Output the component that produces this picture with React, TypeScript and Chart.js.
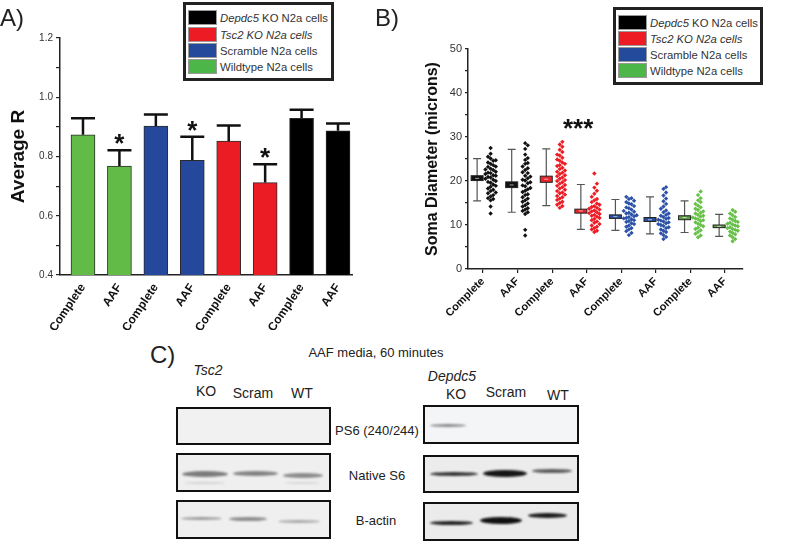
import React, { useEffect, useRef } from "react";
import { Chart, registerables } from "chart.js";

Chart.register(...registerables);

const FONT = "'Liberation Sans', Arial, Helvetica, sans-serif";

// ---------- Panel A data ----------
const barCategories = ["Complete", "AAF", "Complete", "AAF", "Complete", "AAF", "Complete", "AAF"];
const barValues = [0.873, 0.768, 0.903, 0.787, 0.852, 0.712, 0.929, 0.887];
const barErrors = [0.056, 0.053, 0.039, 0.080, 0.053, 0.062, 0.029, 0.024];
const barColors = ["#62bb46", "#62bb46", "#25489c", "#25489c", "#ec1c24", "#ec1c24", "#000000", "#000000"];
const barSignificant = [false, true, false, true, false, true, false, false];
const barYTicks = [0.4, 0.5, 0.6, 0.7, 0.8, 0.9, 1.0, 1.1, 1.2];

// ---------- Panel B data ----------
const somaCategories = ["Complete", "AAF", "Complete", "AAF", "Complete", "AAF", "Complete", "AAF"];
const somaYTicks = [0, 5, 10, 15, 20, 25, 30, 35, 40, 45, 50];
const somaColors = ["#111111", "#111111", "#ed1c24", "#ed1c24", "#2c52a8", "#2c52a8", "#68c04a", "#68c04a"];
const somaBoxColors = ["#111111", "#111111", "#e8242a", "#e8242a", "#2a4e9e", "#2a4e9e", "#5e9c46", "#5e9c46"];

const blackComplete = [27.5, 26.2, 25.5, 25.1, 24.7, 24.6, 24.2, 23.9, 23.6, 23.3, 23.2, 22.8, 22.6, 22.5, 22.1, 21.9, 21.8, 21.6, 21.3, 21.2, 20.9, 20.8, 20.5, 20.3, 20.0, 19.8, 19.6, 19.2, 18.9, 18.7, 18.3, 18.0, 17.7, 17.4, 17.2, 16.8, 16.5, 16.1, 15.9, 15.6, 14.2, 12.6];
const blackAAF = [28.6, 28.1, 27.3, 26.0, 25.2, 24.8, 24.1, 23.9, 23.3, 22.9, 22.5, 22.0, 21.8, 21.2, 21.0, 20.6, 20.3, 20.1, 19.7, 19.5, 19.0, 18.8, 18.4, 18.1, 17.8, 17.5, 17.0, 16.8, 16.3, 16.0, 15.6, 15.3, 14.9, 14.5, 14.2, 13.8, 13.5, 13.2, 12.9, 12.5, 8.9, 7.6];
const redComplete = [28.9, 28.3, 27.8, 27.1, 26.6, 26.0, 25.8, 25.3, 24.9, 24.6, 24.2, 23.9, 23.6, 23.4, 23.0, 22.7, 22.4, 22.1, 21.9, 21.6, 21.3, 21.1, 20.8, 20.5, 20.2, 20.0, 19.7, 19.4, 19.1, 18.9, 18.6, 18.3, 18.0, 17.7, 17.4, 17.2, 16.9, 16.6, 16.3, 16.0, 15.7, 15.3, 15.0, 14.6, 14.3, 13.9];
const redAAF = [21.7, 19.4, 18.5, 17.8, 17.1, 16.4, 15.9, 15.6, 15.2, 14.9, 14.6, 14.3, 14.1, 13.9, 13.7, 13.5, 13.3, 13.1, 12.9, 12.7, 12.5, 12.3, 12.1, 11.9, 11.6, 11.4, 11.1, 10.8, 10.5, 10.2, 9.9, 9.6, 9.3, 9.0, 8.7, 8.4];
const blueComplete = [16.4, 16.1, 15.9, 15.5, 15.2, 14.9, 14.7, 14.3, 14.0, 13.8, 13.5, 13.2, 13.0, 12.8, 12.6, 12.4, 12.2, 12.0, 11.8, 11.6, 11.5, 11.3, 11.1, 10.9, 10.7, 10.4, 10.2, 9.9, 9.6, 9.3, 9.0, 8.6, 8.2, 7.7];
const blueAAF = [18.6, 18.2, 17.4, 16.7, 16.0, 15.4, 14.8, 14.2, 13.7, 13.3, 12.9, 12.6, 12.3, 12.1, 11.8, 11.6, 11.4, 11.2, 11.0, 10.8, 10.6, 10.4, 10.2, 10.0, 9.8, 9.5, 9.3, 9.0, 8.7, 8.4, 8.1, 7.7, 7.3, 6.8];
const greenComplete = [17.6, 16.8, 16.1, 15.6, 15.2, 14.8, 14.4, 14.0, 13.7, 13.4, 13.1, 12.8, 12.6, 12.3, 12.1, 11.9, 11.7, 11.5, 11.3, 11.1, 10.9, 10.6, 10.3, 10.0, 9.7, 9.4, 9.1, 8.8, 8.4, 8.0, 7.6, 7.2];
const greenAAF = [13.4, 13.0, 12.6, 12.2, 11.8, 11.5, 11.2, 10.9, 10.7, 10.5, 10.3, 10.1, 9.9, 9.7, 9.5, 9.3, 9.1, 8.9, 8.7, 8.5, 8.2, 7.9, 7.6, 7.2, 6.8, 6.3];
const somaGroups = [blackComplete, blackAAF, redComplete, redAAF, blueComplete, blueAAF, greenComplete, greenAAF];

const whiskerMin = [15.5, 12.9, 14.4, 9.0, 8.8, 8.0, 8.3, 7.4];
const whiskerMax = [25.1, 27.2, 27.3, 19.2, 15.8, 16.4, 15.5, 12.4];
const boxLow = [20.1, 18.5, 19.7, 12.7, 11.5, 10.8, 11.2, 9.4];
const boxHigh = [21.2, 19.8, 21.1, 13.6, 12.3, 11.7, 12.1, 10.0];
const boxMid = [20.6, 19.1, 20.4, 13.2, 11.9, 11.2, 11.7, 9.7];
const somaStarsAt = { x: 2.75, y: 30 };

// beeswarm-style horizontal layout (deterministic, from the values)
function swarmOffsets(vals: number[]): number[] {
  const order = vals.map((_, i) => i).sort((a, b) => vals[a] - vals[b]);
  const offs = new Array(vals.length).fill(0);
  const placed: { y: number; o: number }[] = [];
  for (const idx of order) {
    const y = vals[idx];
    const near = placed.filter((p) => Math.abs(p.y - y) < 0.9).map((p) => p.o);
    let o = 0;
    for (let k = 0; k < 12; k++) {
      const cand = k === 0 ? 0 : (k % 2 ? 1 : -1) * Math.ceil(k / 2) * 0.075;
      if (!near.some((n) => Math.abs(n - cand) < 0.06)) { o = cand; break; }
    }
    offs[idx] = o;
    placed.push({ y, o });
  }
  return offs;
}

const errorBarPlugin = {
  id: "errorBars",
  afterDatasetsDraw(chart: any) {
    const { ctx, scales } = chart;
    const y = scales.y;
    const meta = chart.getDatasetMeta(0);
    meta.data.forEach((bar: any, i: number) => {
      const xc = bar.x;
      const top = y.getPixelForValue(barValues[i] + barErrors[i]);
      const base = y.getPixelForValue(barValues[i]);
      const half = bar.width / 2;
      ctx.save();
      ctx.strokeStyle = "#111";
      ctx.lineWidth = 2.5;
      ctx.beginPath();
      ctx.moveTo(xc, base);
      ctx.lineTo(xc, top);
      ctx.moveTo(xc - half, top);
      ctx.lineTo(xc + half, top);
      ctx.stroke();
      if (barSignificant[i]) {
        ctx.fillStyle = "#111";
        ctx.font = `bold 26px ${FONT}`;
        ctx.textAlign = "center";
        ctx.textBaseline = "alphabetic";
        ctx.fillText("*", xc, top + 2);
      }
      ctx.restore();
    });
  },
};

const boxPlugin = {
  id: "boxWhiskers",
  afterDatasetsDraw(chart: any) {
    const { ctx, scales } = chart;
    const { x, y } = scales;
    ctx.save();
    somaGroups.forEach((_, i) => {
      const xc = x.getPixelForValue(i - 0.17);
      const yMin = y.getPixelForValue(whiskerMin[i]);
      const yMax = y.getPixelForValue(whiskerMax[i]);
      ctx.strokeStyle = "#555";
      ctx.lineWidth = 1.2;
      ctx.beginPath();
      ctx.moveTo(xc, yMin);
      ctx.lineTo(xc, yMax);
      ctx.moveTo(xc - 4, yMin);
      ctx.lineTo(xc + 4, yMin);
      ctx.moveTo(xc - 4, yMax);
      ctx.lineTo(xc + 4, yMax);
      ctx.stroke();
      const bTop = y.getPixelForValue(boxHigh[i]);
      const bBot = y.getPixelForValue(boxLow[i]);
      ctx.fillStyle = somaBoxColors[i];
      ctx.fillRect(xc - 6, bTop, 12, bBot - bTop);
      ctx.strokeStyle = "#222";
      ctx.lineWidth = 1;
      ctx.strokeRect(xc - 6, bTop, 12, bBot - bTop);
      const m = y.getPixelForValue(boxMid[i]);
      ctx.strokeStyle = "rgba(255,255,255,0.6)";
      ctx.beginPath();
      ctx.moveTo(xc - 2, m);
      ctx.lineTo(xc + 2, m);
      ctx.stroke();
    });
    ctx.fillStyle = "#111";
    ctx.font = `bold 26px ${FONT}`;
    ctx.textAlign = "center";
    ctx.textBaseline = "alphabetic";
    ctx.fillText("***", x.getPixelForValue(somaStarsAt.x), y.getPixelForValue(somaStarsAt.y));
    ctx.restore();
  },
};

function BarPanel() {
  const ref = useRef<HTMLCanvasElement>(null);
  useEffect(() => {
    const chart = new Chart(ref.current as HTMLCanvasElement, {
      type: "bar",
      data: {
        datasets: [
          {
            data: barValues.map((v, i) => ({ x: i, y: v })) as any,
            backgroundColor: barColors,
            borderColor: "#2b2b2b",
            borderWidth: 1,
            barThickness: 24,
          },
        ],
      },
      options: {
        animation: false,
        responsive: false,
        layout: { padding: { left: 0, top: 38, right: 48, bottom: 0 } },
        plugins: { legend: { display: false }, tooltip: { enabled: false } },
        scales: {
          x: {
            type: "linear",
            offset: false,
            bounds: "data",
            min: -0.631,
            max: 7.384,
            afterBuildTicks: (s: any) => { s.ticks = barCategories.map((_, i) => ({ value: i })); },
            afterFit: (s: any) => { s.height = 55; },
            grid: { display: false, drawTicks: false, offset: false },
            border: { display: true, color: "#222", width: 1.5 },
            ticks: {
              autoSkip: false,
              minRotation: 56,
              maxRotation: 56,
              padding: 6,
              color: "#111",
              font: { family: FONT, size: 12, weight: "bold" },
              callback: (v: any) => barCategories[Math.round(v)],
            },
          },
          y: {
            min: 0.4,
            max: 1.2,
            bounds: "data",
            afterBuildTicks: (s: any) => { s.ticks = barYTicks.map((v) => ({ value: v })); },
            afterFit: (s: any) => { s.width = 60; },
            grid: { drawOnChartArea: false, drawTicks: true, tickLength: 4, color: "#222", lineWidth: 1.2 },
            border: { display: true, color: "#222", width: 1.5 },
            ticks: {
              padding: 3,
              color: "#333",
              font: { family: FONT, size: 10 },
              callback: (v: any) => (Math.round(v * 10) % 2 === 0 ? Number(v).toFixed(1) : ""),
            },
            title: {
              display: true,
              text: "Average R",
              color: "#111",
              font: { family: FONT, size: 19, weight: "bold" },
              padding: { top: 7, bottom: 0 },
            },
          },
        },
      } as any,
      plugins: [errorBarPlugin],
    });
    return () => chart.destroy();
  }, []);
  return <canvas ref={ref} width={400} height={330} style={{ position: "absolute", left: 0, top: 0 }} />;
}

function SomaPanel() {
  const ref = useRef<HTMLCanvasElement>(null);
  useEffect(() => {
    const datasets = somaGroups.map((vals, i) => {
      const offs = swarmOffsets(vals);
      return {
        type: "scatter",
        data: vals.map((v, j) => ({ x: i + 0.22 + offs[j], y: v })),
        backgroundColor: somaColors[i],
        borderWidth: 0,
        pointStyle: "rectRot",
        pointRadius: 2.2,
      };
    });
    const chart = new Chart(ref.current as HTMLCanvasElement, {
      type: "scatter",
      data: { datasets: datasets as any },
      options: {
        animation: false,
        responsive: false,
        layout: { padding: { left: 0, top: 49, right: 57, bottom: 0 } },
        plugins: { legend: { display: false }, tooltip: { enabled: false } },
        scales: {
          x: {
            type: "linear",
            offset: false,
            bounds: "data",
            min: -0.434,
            max: 7.52,
            afterBuildTicks: (s: any) => { s.ticks = somaCategories.map((_, i) => ({ value: i })); },
            afterFit: (s: any) => { s.height = 61; },
            grid: { drawOnChartArea: false, drawTicks: true, tickLength: 4, color: "#222", lineWidth: 1.2 },
            border: { display: true, color: "#222", width: 1.5 },
            ticks: {
              autoSkip: false,
              minRotation: 45,
              maxRotation: 45,
              padding: 2,
              color: "#111",
              font: { family: FONT, size: 11, weight: "bold" },
              callback: (v: any) => somaCategories[Math.round(v)],
            },
          },
          y: {
            min: 0,
            max: 50,
            bounds: "data",
            afterBuildTicks: (s: any) => { s.ticks = somaYTicks.map((v) => ({ value: v })); },
            afterFit: (s: any) => { s.width = 68; },
            grid: { drawOnChartArea: false, drawTicks: true, tickLength: 3, color: "#222", lineWidth: 1.2 },
            border: { display: true, color: "#222", width: 1.5 },
            ticks: {
              padding: 3,
              color: "#333",
              font: { family: FONT, size: 11 },
              callback: (v: any) => (Math.round(v) % 10 === 0 ? String(v) : ""),
            },
            title: {
              display: true,
              text: "Soma Diameter (microns)",
              color: "#111",
              font: { family: FONT, size: 16, weight: "bold" },
              padding: { top: 23, bottom: 0 },
            },
          },
        },
      } as any,
      plugins: [boxPlugin],
    });
    return () => chart.destroy();
  }, []);
  return <canvas ref={ref} width={400} height={330} style={{ position: "absolute", left: 400, top: 0 }} />;
}

// ---------- Legend & text helpers ----------
const legendRows = [
  { color: "#000000", parts: [{ t: "Depdc5", i: true }, { t: " KO N2a cells", i: false }] },
  { color: "#ed1c24", parts: [{ t: "Tsc2 KO N2a cells", i: true }] },
  { color: "#234a9b", parts: [{ t: "Scramble N2a cells", i: false }] },
  { color: "#4cb648", parts: [{ t: "Wildtype N2a cells", i: false }] },
];

function Legend({ left, top, width, height, rowTops }: any) {
  return (
    <div style={{ position: "absolute", left, top, width, height, border: "3px solid #222", boxSizing: "border-box", background: "#fff" }}>
      {legendRows.map((r, k) => (
        <React.Fragment key={k}>
          <div style={{ position: "absolute", left: 2, top: rowTops[k], width: 29, height: 15, background: r.color, border: "1px solid #999", boxSizing: "border-box" }} />
          <div style={{ position: "absolute", left: 34, top: rowTops[k] + 1, fontSize: 11.3, lineHeight: "14px", color: "#333", whiteSpace: "nowrap" }}>
            {r.parts.map((p, j) => (
              <span key={j} style={{ fontStyle: p.i ? "italic" : "normal" }}>{p.t}</span>
            ))}
          </div>
        </React.Fragment>
      ))}
    </div>
  );
}

function Txt({ x, baseline, size, children, align = "left", italic = false, color = "#222" }: any) {
  const style: any = {
    position: "absolute",
    top: baseline - 0.8465 * size,
    fontSize: size,
    lineHeight: 1,
    color,
    whiteSpace: "nowrap",
    fontStyle: italic ? "italic" : "normal",
  };
  if (align === "center") { style.left = x; style.transform = "translateX(-50%)"; }
  else style.left = x;
  return <div style={style}>{children}</div>;
}

// ---------- Western blots (panel C) ----------
const blotBoxes = [
  { x0: 176, x1: 331, y0: 407, y1: 445, bg: "#f1f1f1" },
  { x0: 176, x1: 331, y0: 453, y1: 492, bg: "#efefef" },
  { x0: 176, x1: 331, y0: 500, y1: 539, bg: "#efefef" },
  { x0: 423, x1: 579, y0: 405, y1: 444, bg: "#f4f5f6" },
  { x0: 423, x1: 579, y0: 455, y1: 493, bg: "#ececec" },
  { x0: 423, x1: 579, y0: 502, y1: 541, bg: "#ebebeb" },
];
const blotBands = [
  { x0: 182, x1: 228, y: 474, h: 6, c: "#7a7a7a" },
  { x0: 233, x1: 278, y: 473, h: 5, c: "#828282" },
  { x0: 283, x1: 323, y: 475, h: 5, c: "#8a8a8a" },
  { x0: 185, x1: 225, y: 483, h: 2, c: "#d2d2d2" },
  { x0: 285, x1: 320, y: 483, h: 2, c: "#d6d6d6" },
  { x0: 181, x1: 222, y: 518, h: 3, c: "#9a9a9a" },
  { x0: 229, x1: 267, y: 519, h: 4, c: "#8c8c8c" },
  { x0: 278, x1: 320, y: 521, h: 3, c: "#a8a8a8" },
  { x0: 430, x1: 466, y: 425, h: 3, c: "#888888" },
  { x0: 430, x1: 478, y: 474, h: 4, c: "#333333" },
  { x0: 483, x1: 527, y: 473, h: 7, c: "#151515" },
  { x0: 532, x1: 572, y: 471, h: 4, c: "#5a5a5a" },
  { x0: 430, x1: 473, y: 523, h: 4, c: "#222222" },
  { x0: 480, x1: 522, y: 520, h: 7, c: "#111111" },
  { x0: 528, x1: 567, y: 515, h: 5, c: "#1c1c1c" },
];

export default function App() {
  return (
    <div style={{ position: "absolute", left: 0, top: 0, width: 800, height: 559, background: "#fff", fontFamily: FONT, overflow: "hidden" }}>
      <BarPanel />
      <SomaPanel />
      <Legend left={183} top={2} width={151} height={79} rowTops={[5, 22, 38, 54]} />
      <Legend left={613} top={7} width={150} height={78} rowTops={[5, 21, 37, 53]} />
      <Txt x={0} baseline={26} size={24}>A)</Txt>
      <Txt x={375} baseline={26} size={24}>B)</Txt>
      <Txt x={150} baseline={363} size={24}>C)</Txt>
      <Txt x={376} baseline={357} size={13} align="center">AAF media, 60 minutes</Txt>
      <Txt x={208} baseline={375} size={14} align="center" italic>Tsc2</Txt>
      <Txt x={206} baseline={396} size={14} align="center">KO</Txt>
      <Txt x={253} baseline={398} size={14} align="center">Scram</Txt>
      <Txt x={302} baseline={398} size={14} align="center">WT</Txt>
      <Txt x={452} baseline={381} size={14} align="center" italic>Depdc5</Txt>
      <Txt x={456} baseline={399} size={14} align="center">KO</Txt>
      <Txt x={506} baseline={397} size={14} align="center">Scram</Txt>
      <Txt x={558} baseline={400} size={14} align="center">WT</Txt>
      <Txt x={377} baseline={435} size={13} align="center">PS6 (240/244)</Txt>
      <Txt x={377} baseline={480} size={13} align="center">Native S6</Txt>
      <Txt x={376} baseline={525} size={13} align="center">B-actin</Txt>
      {blotBoxes.map((b, k) => (
        <div key={"b" + k} style={{ position: "absolute", left: b.x0, top: b.y0, width: b.x1 - b.x0, height: b.y1 - b.y0, background: b.bg, border: "2px solid #111", boxSizing: "border-box" }} />
      ))}
      {blotBands.map((b, k) => (
        <div key={"d" + k} style={{ position: "absolute", left: b.x0, top: b.y - b.h / 2, width: b.x1 - b.x0, height: b.h, background: b.c, borderRadius: "50%", filter: "blur(0.8px)" }} />
      ))}
    </div>
  );
}
